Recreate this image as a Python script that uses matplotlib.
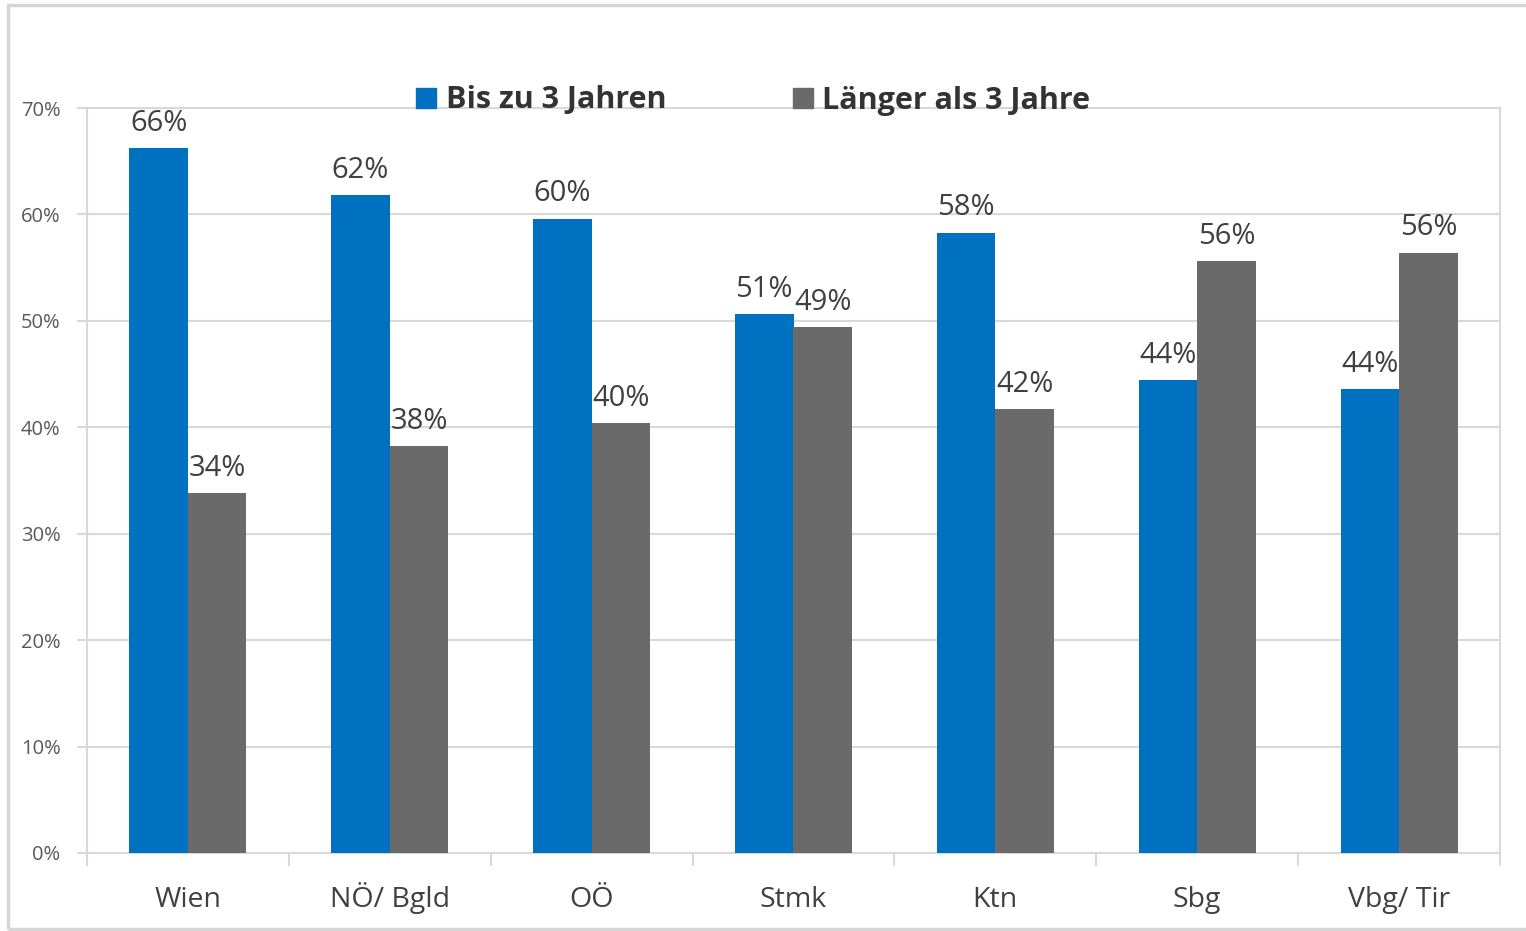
import numpy as np
import matplotlib.pyplot as plt
from matplotlib.patches import Rectangle, Patch

# data
regions = ["Wien", "NÖ/ Bgld", "OÖ", "Stmk", "Ktn", "Sbg", "Vbg/ Tir"]
bis_3 = [66.2, 61.8, 59.6, 50.6, 58.3, 44.4, 43.6]
laenger_3 = [33.8, 38.2, 40.4, 49.4, 41.7, 55.6, 56.4]
series_names = ["Bis zu 3 Jahren", "Länger als 3 Jahre"]
y_ticks = [0, 10, 20, 30, 40, 50, 60, 70]

blue = "#0070c0"
grey = "#6a6a6a"
text_col = "#404040"
line_col = "#d9d9d9"

plt.rcParams['font.family'] = ['Open Sans', 'DejaVu Sans']

fig = plt.figure(figsize=(15.26, 9.31), dpi=100)
# outer frame of the chart
fig.patches.append(Rectangle((8 / 1526, 2 / 931), 1530 / 1526, 924 / 931,
                             transform=fig.transFigure, fill=False,
                             edgecolor="#d6d6d6", linewidth=2.5))

ax = fig.add_axes([87 / 1526, 1 - 853 / 931, 1413 / 1526, 745 / 931])

x = np.arange(len(regions))
w = 0.29
b1 = ax.bar(x - w / 2, bis_3, w, color=blue, zorder=3)
b2 = ax.bar(x + w / 2, laenger_3, w, color=grey, zorder=3)

for bars in (b1, b2):
    for rect in bars:
        v = rect.get_height()
        ax.annotate(f"{v:.0f}%", (rect.get_x() + rect.get_width() / 2, v),
                    xytext=(0, 7.5), textcoords="offset points",
                    ha="center", va="bottom", fontsize=21, color=text_col)

ax.set_xlim(-0.5, len(regions) - 0.5)
ax.set_ylim(0, 70)
ax.set_yticks(y_ticks)
ax.set_yticklabels([f"{t}%" for t in y_ticks], fontsize=14.5, color="#595959")
ax.yaxis.grid(True, color=line_col, linewidth=1.5, zorder=0)

ax.set_xticks(x)
ax.set_xticklabels(regions, fontsize=20.5, color=text_col)
for lab in ax.get_xticklabels():
    lab.set_va("baseline")
ax.tick_params(axis="x", length=0, pad=39)
ax.set_xticks(np.arange(len(regions) + 1) - 0.5, minor=True)
ax.tick_params(axis="x", which="minor", length=9, color=line_col, width=1.5)
ax.tick_params(axis="y", length=7, color=line_col, width=1.5, pad=12)

for s in ax.spines.values():
    s.set_color(line_col)
    s.set_linewidth(1.5)

handles = [Patch(color=blue), Patch(color=grey)]
leg = fig.legend(handles, series_names, loc="lower left",
                 bbox_to_anchor=(389 / 1526, 1 - 143 / 931), ncol=2,
                 frameon=False, handlelength=0.65, handleheight=0.65,
                 handletextpad=0.3, columnspacing=4.17,
                 prop={"size": 22, "weight": "bold"})
for t in leg.get_texts():
    t.set_color("#333333")

fig.savefig("out.png", dpi=100)
